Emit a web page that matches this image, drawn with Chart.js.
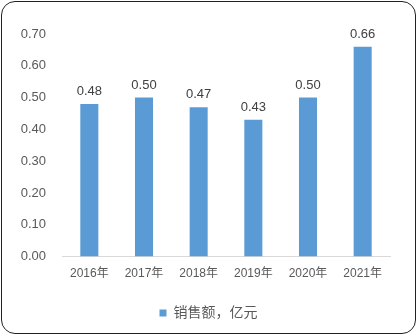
<!DOCTYPE html>
<html>
<head>
<meta charset="utf-8">
<script src="https://cdn.jsdelivr.net/npm/chart.js"></script>
<style>
  body { margin: 0; background: #fff; }
  #wrap { position: relative; width: 417px; height: 335px; }
  #frame {
    position: absolute; left: 1px; top: 1px; width: 413px; height: 331px;
    border: 1px solid #222; border-radius: 14px; pointer-events: none;
  }
  canvas { position: absolute; left: 0; top: 0; }
</style>
</head>
<body>
<div id="wrap">
  <canvas id="myChart" width="417" height="335"></canvas>
  <div id="frame"></div>
</div>
<script>
    // Sales per year, in 100 million yuan
    const years = ['2016年', '2017年', '2018年', '2019年', '2020年', '2021年'];
    const sales = [0.48, 0.50, 0.47, 0.43, 0.50, 0.66];
    const seriesName = '销售额，亿元';

    const fontFamily = '"Liberation Sans", "Noto Sans CJK SC", sans-serif';

    // Draw the value above each bar
    const valueLabels = {
        id: 'valueLabels',
        afterDatasetsDraw(chart) {
            const c = chart.ctx;
            const meta = chart.getDatasetMeta(0);
            c.save();
            c.font = '13px ' + fontFamily;
            c.fillStyle = '#404040';
            c.textAlign = 'center';
            c.textBaseline = 'bottom';
            meta.data.forEach((bar, i) => {
                c.fillText(sales[i].toFixed(2), bar.x, bar.y - 6);
            });
            c.restore();
        }
    };

    const ctx = document.getElementById('myChart').getContext('2d');
    const myChart = new Chart(ctx, {
        type: 'bar',
        data: {
            labels: years,
            datasets: [{
                label: seriesName,
                data: sales,
                backgroundColor: '#5B9BD5',
                categoryPercentage: 1,
                barPercentage: 0.33
            }]
        },
        options: {
            responsive: false,
            animation: false,
            layout: { padding: { left: 0, right: 0, top: 34, bottom: 5 } },
            scales: {
                y: {
                    min: 0,
                    max: 0.7,
                    grid: { display: false, drawTicks: false },
                    border: { display: false },
                    ticks: {
                        stepSize: 0.1,
                        padding: 16,
                        color: '#595959',
                        font: { size: 13, family: fontFamily },
                        callback: v => v.toFixed(2)
                    },
                    afterFit(scale) { scale.width = 62; }
                },
                // empty right-hand axis, only keeps space on the right
                yRight: {
                    position: 'right',
                    grid: { display: false, drawTicks: false },
                    border: { display: false },
                    ticks: { display: false },
                    afterFit(scale) { scale.width = 27; }
                },
                x: {
                    grid: { display: false, drawTicks: false },
                    border: { display: true, color: '#d9d9d9', width: 1 },
                    ticks: {
                        padding: 10,
                        color: '#595959',
                        font: { size: 12, family: fontFamily }
                    },
                    afterFit(scale) { scale.height += 5; }
                }
            },
            plugins: {
                tooltip: { enabled: false },
                legend: {
                    position: 'bottom',
                    labels: {
                        usePointStyle: true,
                        pointStyle: 'rect',
                        boxWidth: 7,
                        boxHeight: 7,
                        color: '#595959',
                        font: { size: 14, family: fontFamily },
                        padding: 10
                    }
                }
            }
        },
        plugins: [valueLabels]
    });
</script>
</body>
</html>
